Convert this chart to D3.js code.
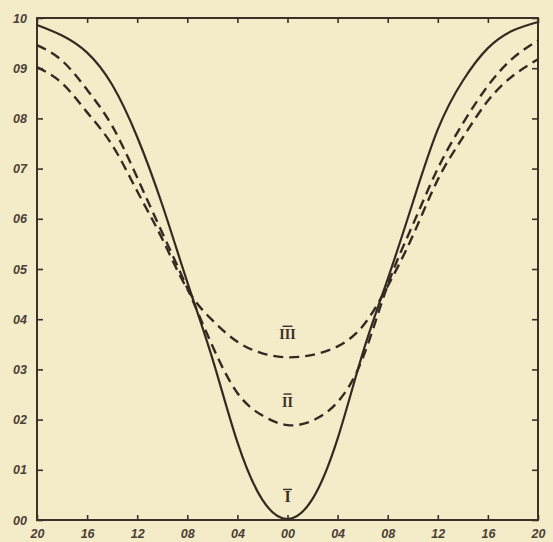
<!DOCTYPE html>
<meta charset="utf-8">
<style>
    body { margin: 0; background: #f4ebc9; }
    svg { display: block; }
    .frame { fill: none; stroke: #3b3128; stroke-width: 2; }
    .tick line { stroke: #3b3128; stroke-width: 1.6; }
    .tick text, .lbl { fill: #4a4034; font-family: "Liberation Sans", sans-serif; font-style: italic; font-weight: bold; font-size: 12.5px; }
    .curve { fill: none; stroke: #342a22; stroke-width: 2.2; }
    .dashed { stroke-dasharray: 10 6; stroke-width: 2.4; }
    .roman { fill: #3b3128; font-family: "Liberation Serif", serif; font-size: 15px; font-weight: bold; }
</style>

<svg width="553" height="542"></svg>

<script src="https://d3js.org/d3.v7.min.js"></script>

<script>
// x positions of the readings
var xs = [-2.0, -1.8, -1.6, -1.4, -1.2, -1.0, -0.8, -0.6, -0.4, -0.2, 0,
          0.2, 0.4, 0.6, 0.8, 1.0, 1.2, 1.4, 1.6, 1.8, 2.0];

// curve I (solid), II and III (dashed)
var curveI   = [0.986, 0.965, 0.931, 0.867, 0.763, 0.628, 0.474, 0.322, 0.155, 0.040, 0.002,
                0.042, 0.162, 0.332, 0.480, 0.632, 0.778, 0.875, 0.940, 0.975, 0.992];
var curveII  = [0.946, 0.915, 0.857, 0.785, 0.682, 0.572, 0.462, 0.347, 0.253, 0.208, 0.189,
                0.198, 0.235, 0.322, 0.468, 0.588, 0.700, 0.790, 0.865, 0.920, 0.955];
var curveIII = [0.902, 0.870, 0.812, 0.747, 0.655, 0.560, 0.460, 0.398, 0.355, 0.332, 0.324,
                0.329, 0.346, 0.386, 0.466, 0.566, 0.678, 0.762, 0.835, 0.885, 0.918];

var curveNames = ["I", "II", "III"];

var yTicks = [0, 0.1, 0.2, 0.3, 0.4, 0.5, 0.6, 0.7, 0.8, 0.9, 1.0];
var yTickLabels = ["00", "01", "02", "03", "04", "05", "06", "07", "08", "09", "10"];
var xTicks = [-2.0, -1.6, -1.2, -0.8, -0.4, 0, 0.4, 0.8, 1.2, 1.6, 2.0];
var xTickLabels = ["20", "16", "12", "08", "04", "00", "04", "08", "12", "16", "20"];

var margin = { top: 18, right: 15, bottom: 22, left: 37 },
    W = 553, H = 542,
    w = W - margin.left - margin.right,
    h = H - margin.top - margin.bottom;

var svg = d3.select("svg");
var g = svg.append("g").attr("transform", "translate(" + margin.left + "," + margin.top + ")");

var x = d3.scaleLinear().domain([-2, 2]).range([0, w]);
var y = d3.scaleLinear().domain([0, 1]).range([h, 0]);

// ticks on all four sides, pointing inward
g.append("g")
    .attr("transform", "translate(0," + h + ")")
    .call(d3.axisBottom(x).tickValues(xTicks).tickSize(-5).tickPadding(9)
        .tickFormat(function(d, i) { return xTickLabels[i]; }))
    .call(function(a) { a.select(".domain").remove(); });

g.append("g")
    .call(d3.axisTop(x).tickValues(xTicks).tickSize(-5).tickFormat(""))
    .call(function(a) { a.select(".domain").remove(); });

g.append("g")
    .call(d3.axisLeft(y).tickValues(yTicks).tickSize(-6).tickPadding(10)
        .tickFormat(function(d, i) { return yTickLabels[i]; }))
    .call(function(a) { a.select(".domain").remove(); });

g.append("g")
    .attr("transform", "translate(" + w + ",0)")
    .call(d3.axisRight(y).tickValues(yTicks).tickSize(-6).tickFormat(""))
    .call(function(a) { a.select(".domain").remove(); });

g.selectAll(".tick text").attr("class", "lbl").attr("fill", null);

g.append("rect").attr("class", "frame")
    .attr("x", 0).attr("y", 0).attr("width", w).attr("height", h);

var line = d3.line()
    .x(function(d) { return x(d[0]); })
    .y(function(d) { return y(d[1]); })
    .curve(d3.curveNatural);

[curveI, curveII, curveIII].forEach(function(vals, i) {
    g.append("path")
        .attr("class", i === 0 ? "curve" : "curve dashed")
        .attr("d", line(xs.map(function(v, j) { return [v, vals[j]]; })));
});

// roman numeral labels, with a bar above
var labelY = [0.035, 0.225, 0.36];
curveNames.forEach(function(name, i) {
    var cx = x(0), cy = y(labelY[i]);
    g.append("text").attr("class", "roman")
        .attr("x", cx).attr("y", cy).attr("text-anchor", "middle")
        .style("font-size", i === 0 ? "16px" : "14px")
        .text(name);
    var bw = i === 0 ? 9 : (i === 1 ? 8 : 10);
    g.append("line").attr("x1", cx - bw / 2).attr("x2", cx + bw / 2)
        .attr("y1", cy - 13).attr("y2", cy - 13)
        .attr("stroke", "#3b3128").attr("stroke-width", 1.4);
});
</script>
